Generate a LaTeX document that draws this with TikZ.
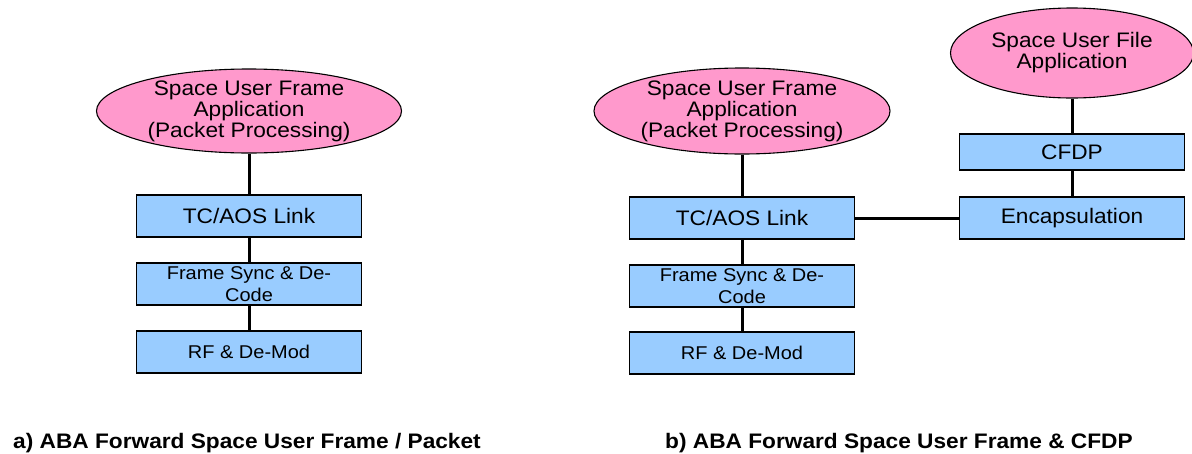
\documentclass[tikz,border=0pt]{standalone}
\usepackage{fontspec}
\setmainfont{Liberation Sans}[FakeStretch=1.08]
\usetikzlibrary{shapes,positioning}
\definecolor{apppink}{RGB}{255,153,204}
\definecolor{layerblue}{RGB}{153,204,255}

\begin{document}
\begin{tikzpicture}[x=1pt,y=-1pt,
        appnode/.style={draw,ellipse,fill=apppink,line width=1.1pt,inner sep=0pt},
        apptext/.style={align=center,inner sep=0pt,font=\fontsize{21}{21}\selectfont},
        layerbox/.style={draw,rectangle,fill=layerblue,line width=1.5pt,minimum width=225pt,minimum height=42pt,inner sep=0pt,align=center,font=\fontsize{21}{21}\selectfont},
        smallbox/.style={layerbox,font=\fontsize{18.5}{22}\selectfont},
        link/.style={line width=3pt},
        caption/.style={anchor=base west,inner sep=0pt,font=\bfseries\fontsize{21}{21}\selectfont}]
        \useasboundingbox (0,0) rectangle (1192,453);

        % a) 左边的协议栈
        \node[appnode,minimum width=305pt,minimum height=84pt] (appL) at (249,111) {};
        \node[apptext] (appLtext) at (249,111) {Space User Frame\\Application\\(Packet Processing)};
        \node[layerbox] (tcL) at (249,216) {TC/AOS Link};
        \node[smallbox] (fsL) at (249,284) {Frame Sync \& De-\\Code};
        \node[smallbox] (rfL) at (249,352) {RF \& De-Mod};

        \draw[link] (appL) -- (tcL);
        \draw[link] (tcL) -- (fsL);
        \draw[link] (fsL) -- (rfL);

        % b) 右边的协议栈
        \node[appnode,minimum width=296pt,minimum height=86pt] (appR) at (742,111) {};
        \node[apptext] (appRtext) at (742,111) {Space User Frame\\Application\\(Packet Processing)};
        \node[layerbox] (tcR) at (742,218) {TC/AOS Link};
        \node[smallbox] (fsR) at (742,286) {Frame Sync \& De-\\Code};
        \node[smallbox] (rfR) at (742,353) {RF \& De-Mod};

        \node[appnode,minimum width=243pt,minimum height=90pt] (fileApp) at (1072,53) {};
        \node[apptext] (fileAppText) at (1072,53) {Space User File\\Application};
        \node[layerbox,minimum height=36pt] (cfdp) at (1072,152) {CFDP};
        \node[layerbox] (encap) at (1072,218) {Encapsulation};

        \draw[link] (appR) -- (tcR);
        \draw[link] (tcR) -- (fsR);
        \draw[link] (fsR) -- (rfR);
        \draw[link] (fileApp) -- (cfdp);
        \draw[link] (cfdp) -- (encap);
        \draw[link] (tcR) -- (encap);

        % 图注
        \node[caption] (capA) at (13,448) {a) ABA Forward Space User Frame / Packet};
        \node[caption] (capB) at (665,448) {b) ABA Forward Space User Frame \& CFDP};
    \end{tikzpicture}
\end{document}
